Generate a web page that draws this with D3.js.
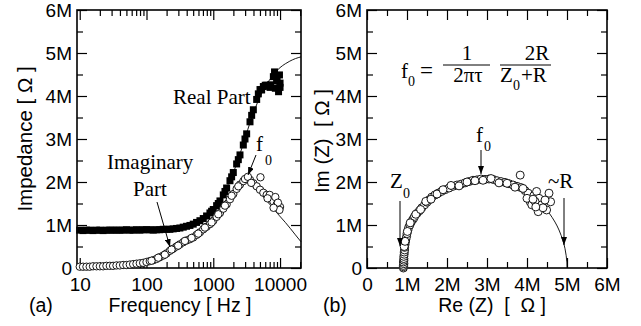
<!DOCTYPE html>
<html>
<head>
<meta charset="utf-8">
<script src="https://cdn.jsdelivr.net/npm/d3@7"></script>
<style>
  body { margin: 0; background: #fff; }
  .tick text { font-family: "Liberation Sans", Arial, sans-serif; font-size: 19px; fill: #000; }
  .tick line { stroke: #000; stroke-width: 1.2; }
</style>
</head>
<body>
<svg id="fig" width="641" height="326"></svg>
<script>
// ---- data (values in MOhm) ----
const freq = [10, 11.2, 12.6, 14.1, 15.8, 17.8, 20, 22.4, 25.1, 28.2, 31.6, 35.5, 39.8, 44.7, 50.1, 56.2, 63.1, 70.8, 79.4, 89.1,
  100, 112, 126, 141, 158, 178, 200, 224, 251, 282, 316, 355, 398, 447, 501, 562, 631, 708, 794, 891,
  1000, 1122, 1259, 1413, 1585, 1778, 1995, 2239, 2512, 2818, 3162, 3548, 3981, 4467, 5012, 5623, 6310, 7079, 7943, 8913, 10000];
const realPart = [0.88, 0.87, 0.88, 0.88, 0.87, 0.88, 0.88, 0.87, 0.88, 0.88, 0.88, 0.88, 0.88, 0.88, 0.89, 0.88, 0.88, 0.89, 0.88, 0.89,
  0.89, 0.89, 0.88, 0.89, 0.89, 0.90, 0.90, 0.90, 0.91, 0.92, 0.93, 0.95, 0.97, 0.99, 1.02, 1.06, 1.10, 1.15, 1.21, 1.28,
  1.36, 1.45, 1.56, 1.70, 1.86, 2.03, 2.22, 2.42, 2.63, 2.86, 3.12, 3.40, 3.68, 3.92, 4.15, 4.22, 4.25, 4.20, 4.45, 4.35, 4.30];
const imagPart = [0.03, 0.03, 0.03, 0.03, 0.04, 0.04, 0.04, 0.04, 0.05, 0.05, 0.05, 0.06, 0.06, 0.07, 0.07, 0.08, 0.09, 0.10, 0.11, 0.12,
  0.14, 0.16, 0.18, 0.21, 0.25, 0.29, 0.34, 0.40, 0.45, 0.50, 0.55, 0.60, 0.64, 0.67, 0.71, 0.77, 0.83, 0.90, 0.96, 1.02,
  1.10, 1.19, 1.28, 1.38, 1.48, 1.60, 1.72, 1.84, 1.94, 2.02, 2.08, 2.05, 1.97, 1.90, 1.82, 1.75, 1.70, 1.62, 1.55, 1.48, 1.42];
// repeated / scattered sweeps
const realExtraF = [944, 1189, 1496, 1884, 2371, 2985, 3758, 4730, 8270, 9800, 10000, 9500, 7200, 8500, 6000, 9000, 5300];
const realExtraV = [1.32, 1.50, 1.78, 2.12, 2.52, 3.00, 3.55, 4.05, 4.56, 4.49, 4.20, 4.10, 4.26, 4.18, 4.25, 4.40, 4.14];
const imagExtraF = [119, 150, 188, 237, 298, 376, 473, 596, 750, 944, 1189, 1496, 1884, 2371, 2985,
  5090, 7000, 8500, 9300, 9800, 8000, 3300, 3700, 6500];
const imagExtraV = [0.17, 0.24, 0.31, 0.43, 0.52, 0.63, 0.70, 0.80, 0.94, 1.06, 1.25, 1.45, 1.68, 1.90, 2.07,
  2.11, 1.70, 1.65, 1.52, 1.35, 1.40, 2.12, 1.98, 1.62];

// fitted curves, panel (a)
const realFitF = [9.1, 30, 100, 300, 600, 1000, 1500, 2000, 2700, 3500, 5000, 7000, 10000, 12000, 14000, 17000, 20600];
const realFitV = [0.88, 0.88, 0.89, 0.93, 1.05, 1.36, 1.80, 2.22, 2.80, 3.35, 3.98, 4.38, 4.66, 4.75, 4.81, 4.87, 4.91];
const imagFitF = [9.1, 30, 100, 200, 500, 1000, 1500, 2000, 2700, 3500, 5000, 7000, 9600, 12000, 14250, 17000, 20600];
const imagFitV = [0.01, 0.04, 0.14, 0.30, 0.70, 1.18, 1.55, 1.82, 2.04, 2.02, 1.76, 1.48, 1.23, 1.06, 0.92, 0.77, 0.61];

// panel (b) points
const nyqRe = [0.91, 0.91, 0.91, 0.92, 0.91, 0.92, 0.92, 0.92, 0.93, 0.93, 0.94, 0.94, 0.95, 0.96, 0.97, 0.99, 1.00, 1.02, 1.04, 1.07,
  1.10, 1.14, 1.17, 1.19, 1.25, 1.31, 1.37, 1.44, 1.50, 1.56, 1.62, 1.70, 1.78, 1.86, 1.95, 2.05, 2.15, 2.25, 2.35, 2.45,
  2.55, 2.65, 2.75, 2.85, 2.95, 3.05, 3.15, 3.25, 3.35, 3.45, 3.55, 3.65, 3.75, 3.83, 3.85, 3.95, 4.03, 4.08, 4.12, 4.17,
  4.24, 4.28, 4.30, 4.37, 4.49, 4.55, 4.59, 4.20, 4.40,
  0.93, 0.95, 1.01, 1.08, 1.22, 1.34, 1.47, 1.60, 1.75, 1.90, 2.10, 2.30, 2.50, 2.70, 2.90, 3.10, 3.30, 3.50, 3.70, 3.90,
  4.00, 4.15, 4.22, 4.45];
const nyqIm = [0.00, 0.03, 0.06, 0.10, 0.14, 0.18, 0.22, 0.27, 0.32, 0.37, 0.42, 0.48, 0.54, 0.60, 0.66, 0.73, 0.80, 0.87, 0.94, 1.00,
  1.06, 1.12, 1.16, 1.20, 1.27, 1.33, 1.40, 1.47, 1.53, 1.59, 1.65, 1.70, 1.74, 1.78, 1.82, 1.86, 1.90, 1.93, 1.95, 1.98,
  2.01, 2.04, 2.05, 2.07, 2.06, 2.07, 2.06, 2.03, 2.01, 1.99, 1.96, 1.93, 1.90, 2.16, 1.87, 1.80, 1.74, 1.54, 1.47, 1.68,
  1.78, 1.31, 1.62, 1.47, 1.35, 1.74, 1.54, 1.55, 1.40,
  0.50, 0.62, 0.85, 1.05, 1.25, 1.36, 1.55, 1.60, 1.72, 1.82, 1.92, 1.91, 2.00, 2.03, 2.04, 2.08, 1.98, 1.97, 1.88, 1.85,
  1.62, 1.60, 1.42, 1.58];
// fitted arc, panel (b)
const arcRe = [0.9, 0.905, 0.92, 0.95, 1.0, 1.1, 1.2, 1.35, 1.5, 1.75, 2.0, 2.25, 2.5, 2.75, 2.95, 3.15, 3.4, 3.65, 3.9, 4.15, 4.4, 4.55, 4.7, 4.8, 4.9, 4.95, 4.98, 4.995, 5.0];
const arcIm = [0, 0.143, 0.286, 0.45, 0.632, 0.883, 1.068, 1.282, 1.449, 1.662, 1.817, 1.927, 2.0, 2.04, 2.05, 2.04, 2.0, 1.927, 1.817, 1.662, 1.449, 1.282, 1.068, 0.883, 0.632, 0.45, 0.286, 0.143, 0];

const mTicks = [0, 1, 2, 3, 4, 5, 6];
const mMinor = [0.5, 1.5, 2.5, 3.5, 4.5, 5.5];
const fTicks = [10, 100, 1000, 10000];
const fMinor = [20, 30, 40, 50, 60, 70, 80, 90, 200, 300, 400, 500, 600, 700, 800, 900,
  2000, 3000, 4000, 5000, 6000, 7000, 8000, 9000, 20000];

const SANS = '"Liberation Sans", Arial, sans-serif';
const SERIF = '"Liberation Serif", "Times New Roman", "DejaVu Serif", serif';

// ---- layout ----
const svg = d3.select('#fig');
svg.append('rect').attr('width', 641).attr('height', 326).attr('fill', '#fff');

svg.append('defs').append('marker')
    .attr('id', 'ah').attr('markerUnits', 'userSpaceOnUse')
    .attr('markerWidth', 9).attr('markerHeight', 6)
    .attr('refX', 8).attr('refY', 3).attr('orient', 'auto')
  .append('path').attr('d', 'M0,0L8,3L0,6Z').attr('fill', '#000');

const plotTop = 10, plotBottom = 268;
const xA = d3.scaleLog().domain([9.1, 20600]).range([77, 301]);
const yA = d3.scaleLinear().domain([0, 6]).range([plotBottom, plotTop]);
const xB = d3.scaleLinear().domain([0, 6]).range([367, 607]);
const yB = d3.scaleLinear().domain([0, 6]).range([plotBottom, plotTop]);

const fmtM = d => d === 0 ? '0' : d + 'M';

function addAxis(axis, pos, vals, size, fmt, pad) {
  const g = svg.append('g').attr('transform', pos)
      .call(axis.tickValues(vals).tickSize(-size).tickSizeOuter(0)
        .tickPadding(pad || 0).tickFormat(fmt || (() => '')));
  g.select('.domain').remove();
  return g;
}

function frame(x, y, xMaj, xMin, yMaj, yMin, xFmt) {
  const [x0, x1] = x.range();
  addAxis(d3.axisLeft(y), `translate(${x0},0)`, yMaj, 10, fmtM, 5);
  addAxis(d3.axisLeft(y), `translate(${x0},0)`, yMin, 6);
  addAxis(d3.axisRight(y), `translate(${x1},0)`, yMaj, 10);
  addAxis(d3.axisRight(y), `translate(${x1},0)`, yMin, 6);
  addAxis(d3.axisBottom(x), `translate(0,${plotBottom})`, xMaj, 10, xFmt, 10);
  addAxis(d3.axisBottom(x), `translate(0,${plotBottom})`, xMin, 6);
  addAxis(d3.axisTop(x), `translate(0,${plotTop})`, xMaj, 10);
  addAxis(d3.axisTop(x), `translate(0,${plotTop})`, xMin, 6);
  svg.append('rect').attr('x', x0).attr('y', plotTop)
      .attr('width', x1 - x0).attr('height', plotBottom - plotTop)
      .attr('fill', 'none').attr('stroke', '#000').attr('stroke-width', 1.6);
}

frame(xA, yA, fTicks, fMinor, mTicks, mMinor, d3.format('d'));
frame(xB, yB, mTicks, mMinor, mTicks, mMinor, fmtM);

// ---- panel (a) ----
const lineA = d3.line().x(d => xA(d[0])).y(d => yA(d[1])).curve(d3.curveMonotoneX);
[[realFitF, realFitV], [imagFitF, imagFitV]].forEach(([f, v]) => {
  svg.append('path').datum(d3.zip(f, v)).attr('d', lineA)
      .attr('fill', 'none').attr('stroke', '#000').attr('stroke-width', 0.9);
});

const reals = d3.zip(freq, realPart).concat(d3.zip(realExtraF, realExtraV));
svg.append('g').selectAll('rect').data(reals).join('rect')
    .attr('x', d => xA(d[0]) - 3.5).attr('y', d => yA(d[1]) - 3.5)
    .attr('width', 7).attr('height', 7).attr('fill', '#000');

const imags = d3.zip(freq, imagPart).concat(d3.zip(imagExtraF, imagExtraV));
svg.append('g').selectAll('circle').data(imags).join('circle')
    .attr('cx', d => xA(d[0])).attr('cy', d => yA(d[1])).attr('r', 3.7)
    .attr('fill', '#fff').attr('stroke', '#000').attr('stroke-width', 0.9);

// ---- panel (b) ----
svg.append('path').datum(d3.zip(arcRe, arcIm))
    .attr('d', d3.line().x(d => xB(d[0])).y(d => yB(d[1])).curve(d3.curveCatmullRom))
    .attr('fill', 'none').attr('stroke', '#000').attr('stroke-width', 0.9);

svg.append('g').selectAll('circle').data(d3.zip(nyqRe, nyqIm)).join('circle')
    .attr('cx', d => xB(d[0])).attr('cy', d => yB(d[1])).attr('r', 4)
    .attr('fill', '#fff').attr('stroke', '#000').attr('stroke-width', 0.9);

// ---- text ----
function txt(serif, x, y, s, size, anchor) {
  return svg.append('text').attr('x', x).attr('y', y)
      .style('font-family', serif ? SERIF : SANS)
      .style('font-size', (size || (serif ? 21 : 19.5)) + 'px')
      .attr('text-anchor', anchor || 'start').attr('xml:space', 'preserve').text(s);
}
function arrow(x1, y1, x2, y2) {
  svg.append('line').attr('x1', x1).attr('y1', y1).attr('x2', x2).attr('y2', y2)
      .attr('stroke', '#000').attr('stroke-width', 1).attr('marker-end', 'url(#ah)');
}

txt(false, 180, 312, 'Frequency [ Hz ]', null, 'middle');
txt(false, 29, 312, '(a)');
txt(false, 492, 312, 'Re (Z)  [  Ω ]', null, 'middle');
txt(false, 323, 312, '(b)');
txt(false, 0, 0, 'Impedance [ Ω ]', 20.5, 'middle').attr('transform', 'translate(32,139) rotate(-90)');
txt(false, 0, 0, 'Im (Z)  [ Ω ]', 20.5, 'middle').attr('transform', 'translate(329,141) rotate(-90)');

txt(true, 173, 104, 'Real Part');
txt(true, 107, 169, 'Imaginary');
txt(true, 133, 196, 'Part');
arrow(157, 202, 170, 247);
txt(true, 256, 151, 'f');
txt(true, 265, 165, '0', 14);
arrow(256, 155, 248, 175);

// panel (b) labels
txt(true, 476, 142, 'f');
txt(true, 484, 151, '0', 14);
arrow(481, 150, 481, 174);
txt(true, 390, 188, 'Z');
txt(true, 403, 198, '0', 14);
arrow(400, 201, 400, 246);
txt(true, 548, 188, '~R');
arrow(564, 198, 564, 245);

// formula
txt(true, 401, 78, 'f');
txt(true, 408, 86, '0', 14);
txt(true, 420, 78, '=', 23);
txt(true, 467, 60, '1', null, 'middle');
txt(true, 468, 82, '2πτ', null, 'middle');
txt(true, 537, 60, '2R', null, 'middle');
txt(true, 500, 82, 'Z');
txt(true, 513, 90, '0', 14);
txt(true, 521, 82, '+R');
[[443, 490], [500, 551]].forEach(([a, b]) => {
  svg.append('line').attr('x1', a).attr('x2', b).attr('y1', 65).attr('y2', 65)
      .attr('stroke', '#000').attr('stroke-width', 1);
});
</script>
</body>
</html>
